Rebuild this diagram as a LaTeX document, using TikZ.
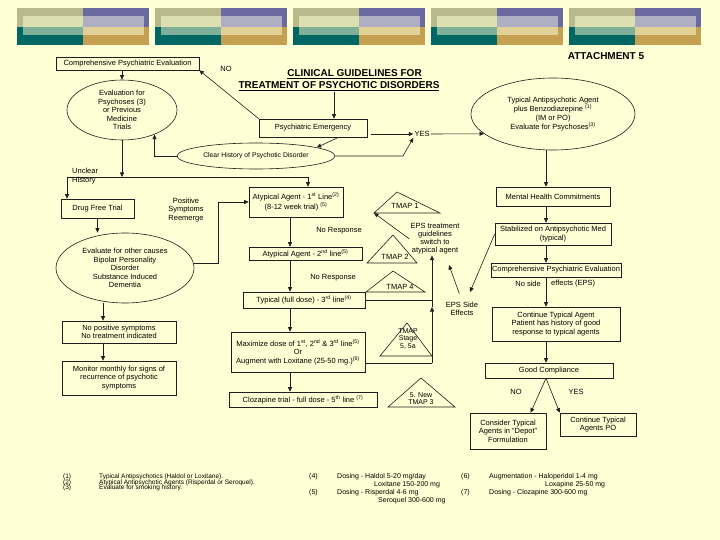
\documentclass[tikz,border=0pt]{standalone}
\usepackage{fontspec}
\setmainfont{Liberation Sans}
\usetikzlibrary{arrows.meta,shapes.geometric}

\begin{document}
\begin{tikzpicture}[x=1pt,y=-1pt,
  every node/.style={font=\fontsize{7.5}{8.6}\selectfont,inner sep=1pt},
  box/.style={draw=linec,line width=0.6pt,align=center},
  oval/.style={draw=linec,line width=0.6pt,ellipse,align=center,inner sep=0pt},
  tmap/.style={draw=linec,line width=0.6pt},
  conn/.style={draw=linec,line width=0.6pt},
  arr/.style={conn,-{Triangle[length=4.5pt,width=4pt]}},
  lbl/.style={align=center},
  note/.style={anchor=west,font=\fontsize{7}{8}\selectfont},
  smallnote/.style={anchor=west,font=\fontsize{6.5}{7}\selectfont}]

  % Define colors
  \definecolor{bgcream}{RGB}{255,255,213}
  \definecolor{linec}{RGB}{30,30,30}
  \definecolor{barolive}{RGB}{184,185,140}
  \definecolor{barblue}{RGB}{106,106,160}
  \definecolor{barteal}{RGB}{0,104,100}
  \definecolor{bargold}{RGB}{196,160,80}
  \definecolor{inolive}{RGB}{220,223,176}
  \definecolor{inblue}{RGB}{176,174,194}
  \definecolor{inteal}{RGB}{128,176,152}
  \definecolor{ingold}{RGB}{226,209,150}

  % page
  \fill[bgcream] (0,0) rectangle (720,540);
  \useasboundingbox (0,0) rectangle (720,540);

  % header bars
  \foreach \bx in {17,155,293,431,569} {
    \fill[barolive] (\bx,8) rectangle (\bx+66,27);
    \fill[barblue] (\bx+66,8) rectangle (\bx+132,27);
    \fill[barteal] (\bx,27) rectangle (\bx+66,45);
    \fill[bargold] (\bx+66,27) rectangle (\bx+132,45);
    \fill[inolive] (\bx+6,16.5) rectangle (\bx+66,27);
    \fill[inblue] (\bx+66,16.5) rectangle (\bx+127,27);
    \fill[inteal] (\bx+6,27) rectangle (\bx+66,35);
    \fill[ingold] (\bx+66,27) rectangle (\bx+127,35);
  }

  % title and attachment
  \node[font=\bfseries\fontsize{10}{12}\selectfont] (title1) at (354.5,74)
    {\underline{CLINICAL GUIDELINES FOR}};
  \node[font=\bfseries\fontsize{10}{12}\selectfont] (title2) at (339,86)
    {\underline{TREATMENT OF PSYCHOTIC DISORDERS}};
  \node[font=\bfseries\fontsize{10}{12}\selectfont] (attach) at (606,56) {ATTACHMENT 5};

  % left column
  \node[box,minimum width=143,minimum height=13] (cpe) at (127.5,63.5)
    {Comprehensive Psychiatric Evaluation};
  \node[oval,minimum width=110,minimum height=60] (evalpsy) at (122,110)
    {Evaluation for\\Psychoses (3)\\or Previous\\Medicine\\Trials};
  \node[oval,minimum width=158,minimum height=26,font=\fontsize{6.8}{8}\selectfont]
    (clearhist) at (256,156) {Clear History of Psychotic Disorder};
  \node[anchor=north west,align=left] (unclear) at (71,167) {Unclear\\History};
  \node[box,minimum width=73,minimum height=19] (dft) at (97.5,208.5) {Drug Free Trial};
  \node[oval,minimum width=138,minimum height=70] (evalo) at (125,268)
    {Evaluate for other causes\\Bipolar Personality\\Disorder\\Substance Induced\\Dementia};
  \node[lbl] (posi) at (186,210) {Positive\\Symptoms\\Reemerge};
  \node[box,minimum width=114,minimum height=22] (nops) at (119,332)
    {No positive symptoms\\No treatment indicated};
  \node[box,minimum width=114,minimum height=34] (monit) at (119,378)
    {Monitor monthly for signs of\\recurrence of psychotic\\symptoms};

  % emergency branch
  \node[box,minimum width=108,minimum height=18] (emerg) at (313,128) {Psychiatric Emergency};
  \node (no) at (226,69) {NO};
  \node (yes) at (422,134) {YES};
  \node[oval,minimum width=164,minimum height=72] (typben) at (553,114)
    {Typical Antipsychotic Agent\\[1pt]plus Benzodiazepine \textsuperscript{(1)}\\(IM or PO)\\[1pt]
     Evaluate for Psychoses\textsuperscript{(3)}};

  % middle column
  \node[box,minimum width=94,minimum height=30] (atyp1) at (296,202)
    {Atypical Agent - 1\textsuperscript{st} Line\textsuperscript{(2)}\\[1pt](8-12 week trial) \textsuperscript{(5)}};
  \node[lbl] (nores1) at (339,231) {No Response};
  \node[box,minimum width=113,minimum height=13] (atyp2) at (305.5,253.5)
    {Atypical Agent - 2\textsuperscript{nd} line\textsuperscript{(5)}};
  \node[lbl] (nores2) at (333,278) {No Response};
  \node[box,minimum width=122,minimum height=16] (typ3) at (304,300)
    {Typical (full dose) - 3\textsuperscript{rd} line\textsuperscript{(4)}};
  \node[box,minimum width=134,minimum height=40] (maxd) at (298,352)
    {Maximize dose of 1\textsuperscript{st}, 2\textsuperscript{nd} \& 3\textsuperscript{rd} line\textsuperscript{(5)}\\Or\\
     Augment with Loxitane (25-50 mg.)\textsuperscript{(6)}};
  \node[box,minimum width=148,minimum height=15] (cloz) at (303,399.5)
    {Clozapine trial - full dose - 5\textsuperscript{th} line \textsuperscript{(7)}};

  % TMAP triangles
  \coordinate (t1c) at (374,213);
  \draw[tmap] (397,192) -- (440,213) -- (t1c) -- cycle;
  \node (tmap1) at (405,206) {TMAP 1};
  \draw[tmap] (393,235) -- (417,263) -- (367,263) -- cycle;
  \node (tmap2) at (395,257) {TMAP 2};
  \draw[tmap] (393,271) -- (425,292) -- (366,292) -- cycle;
  \node (tmap4) at (400,287) {TMAP 4};
  \draw[tmap] (407,323) -- (432,356) -- (380,356) -- cycle;
  \node[lbl,font=\fontsize{7}{7.5}\selectfont] (tmap5) at (408,339) {TMAP\\Stage\\5, 5a};
  \draw[tmap] (421,378) -- (455,407) -- (388,407) -- cycle;
  \node[lbl,font=\fontsize{7}{7.2}\selectfont] (tmap3) at (421,399) {5. New\\TMAP 3};

  % EPS notes
  \node[lbl,font=\fontsize{7.5}{8}\selectfont] (epstreat) at (435,239)
    {EPS treatment\\guidelines\\switch to\\atypical agent};
  \node[lbl,font=\fontsize{7.5}{8}\selectfont] (epsside) at (462,309) {EPS Side\\Effects};

  % right column
  \node[box,minimum width=114,minimum height=19] (mhc) at (553,196.5) {Mental Health Commitments};
  \node[box,minimum width=116,minimum height=22] (stab) at (553,234)
    {Stabilized on Antipsychotic Med\\(typical)};
  \node[box,minimum width=130,minimum height=14] (cpe2) at (556,270)
    {Comprehensive Psychiatric Evaluation};
  \node[anchor=east] (noside) at (542,284) {No side};
  \node[anchor=west] (effects) at (550,284) {effects (EPS)};
  \node[box,minimum width=128,minimum height=34] (contt) at (556,324)
    {Continue Typical Agent\\Patient has history of good\\response to typical agents};
  \node[box,minimum width=128,minimum height=15] (goodc) at (549,370.5) {Good Compliance};
  \node (gno) at (516,392) {NO};
  \node (gyes) at (576,392) {YES};
  \node[box,minimum width=76,minimum height=36] (depot) at (508,431)
    {Consider Typical\\Agents in ``Depot''\\Formulation};
  \node[box,minimum width=76,minimum height=23] (contpo) at (598,424.5)
    {Continue Typical\\Agents PO};

  % connectors, left side
  \coordinate (uh) at (67,177);
  \coordinate (uh2) at (308,177);
  \coordinate (lc) at (103,0);
  \coordinate (pj) at (218,0);
  \draw[arr] (cpe.south -| evalpsy.north) -- (evalpsy.north);
  \draw[arr] (evalpsy.south) -- (evalpsy.south |- uh);
  \draw[conn] (uh) -- (uh2);
  \draw[arr] (uh) -- (uh |- dft.north);
  \draw[arr] (uh2) -- (uh2 |- atyp1.north);
  \draw[arr] (clearhist.west) -| (evalpsy.323);
  \draw[arr] (dft.south) -- (dft.south |- evalo.north);
  \draw[arr] (evalo.4) -| (pj |- atyp1.west) -- (atyp1.west);
  \draw[arr] (evalo.south -| lc) -- (nops.north -| lc);
  \draw[arr] (nops.south -| lc) -- (monit.north -| lc);

  % connectors, emergency branch
  \coordinate (tc) at (334,0);
  \coordinate (cb) at (403,156);
  \draw[arr] (title2.south -| tc) -- (emerg.north -| tc);
  \draw[arr] (emerg.north west) -- (cpe.south east);
  \draw[arr] (emerg.340) -- (clearhist.8);
  \draw[arr] (clearhist.east) -- (cb) -- (yes.south west);
  \draw[arr,shorten <=4pt] (emerg.east |- yes.west) -- (yes.west);
  \draw[arr] (yes.east) -- (typben.196);

  % connectors, middle column
  \coordinate (mc) at (290,0);
  \coordinate (vb) at (432,363);
  \coordinate (vm) at (432,300);
  \coordinate (va) at (432,307);
  \draw[arr] (atyp1.south -| mc) -- (atyp2.north -| mc);
  \draw[arr] (atyp2.south -| mc) -- (typ3.north -| mc);
  \draw[arr] (typ3.south -| mc) -- (maxd.north -| mc);
  \draw[arr] (maxd.south -| mc) -- (cloz.north -| mc);
  \draw[conn] (maxd.east |- vb) -- (vb);
  \draw[arr] (vb) -- (va);
  \draw[conn] (typ3.east |- vm) -- (vm);
  \draw[arr] (va) -- (va |- epstreat.south);
  \draw[arr] (epstreat.west) -- (t1c);

  % connectors, right column
  \coordinate (rc) at (546,0);
  \coordinate (epsp) at (449,265);
  \coordinate (epsq) at (470,292);
  \draw[arr] (typben.south -| rc) -- (mhc.north -| rc);
  \draw[arr] (stab.west) -- (epsq);
  \draw[arr,shorten <=8pt] (epsside.north) -- (epsp);
  \draw[arr] (mhc.south -| rc) -- (stab.north -| rc);
  \draw[arr] (stab.south -| rc) -- (cpe2.north -| rc);
  \draw[arr] (cpe2.south -| rc) -- (contt.north -| rc);
  \draw[arr] (contt.south -| rc) -- (goodc.north -| rc);
  \draw[arr] (goodc.south -| rc) -- (depot.39);
  \draw[arr] (goodc.south -| rc) -- (contpo.north west);

  % footnotes
  \node[smallnote] (fn1) at (62,477) {(1)};
  \node[smallnote] (fn1t) at (98,477) {Typical Antipsychotics (Haldol or Loxitane).};
  \node[smallnote] (fn2) at (62,482.5) {(2)};
  \node[smallnote] (fn2t) at (98,482.5) {Atypical Antipsychotic Agents (Risperdal or Seroquel).};
  \node[smallnote] (fn3) at (62,488) {(3)};
  \node[smallnote] (fn3t) at (98,488) {Evaluate for smoking history.};
  \node[note] (fn4) at (308,477) {(4)};
  \node[note] (fn4t) at (336,477) {Dosing - Haldol 5-20 mg/day};
  \node[note] (fn4b) at (373,485) {Loxitane 150-200 mg};
  \node[note] (fn5) at (308,493) {(5)};
  \node[note] (fn5t) at (336,493) {Dosing - Risperdal 4-6 mg};
  \node[note] (fn5b) at (377,501) {Seroquel 300-600 mg};
  \node[note] (fn6) at (460,477) {(6)};
  \node[note] (fn6t) at (488,477) {Augmentation - Haloperidol 1-4 mg};
  \node[note] (fn6b) at (544,485) {Loxapine 25-50 mg};
  \node[note] (fn7) at (460,493) {(7)};
  \node[note] (fn7t) at (488,493) {Dosing - Clozapine 300-600 mg};

\end{tikzpicture}
\end{document}
